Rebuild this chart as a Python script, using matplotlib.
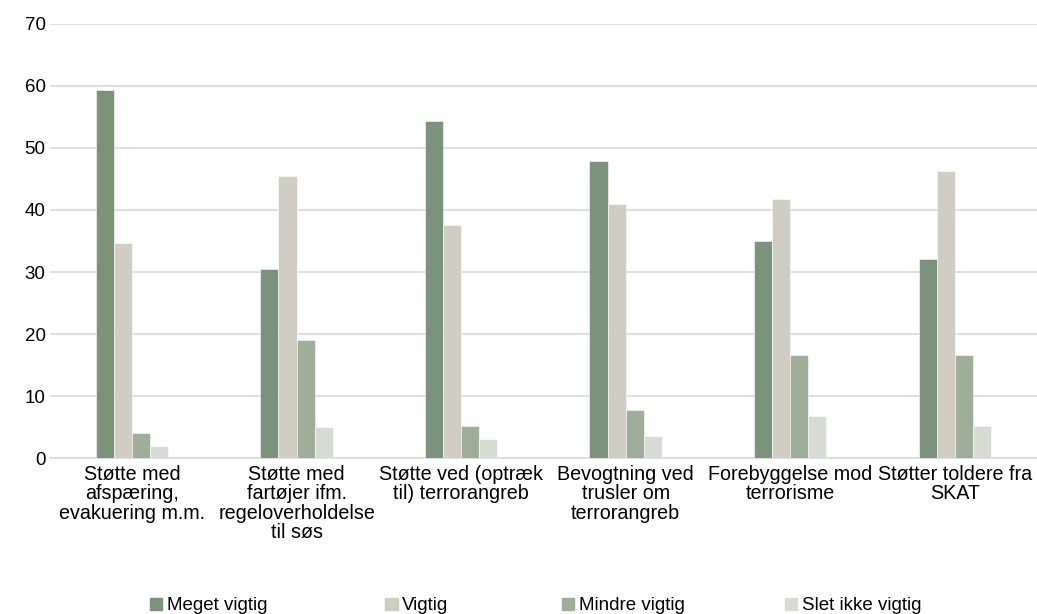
import numpy as np
import matplotlib.pyplot as plt
from matplotlib.patches import Patch

categories = [
    "Støtte med\nafspæring,\nevakuering m.m.",
    "Støtte med\nfartøjer ifm.\nregeloverholdelse\ntil søs",
    "Støtte ved (optræk\ntil) terrorangreb",
    "Bevogtning ved\ntrusler om\nterrorangreb",
    "Forebyggelse mod\nterrorisme",
    "Støtter toldere fra\nSKAT",
]
series_names = ["Meget vigtig", "Vigtig", "Mindre vigtig", "Slet ikke vigtig"]
meget = [59.3, 30.5, 54.4, 47.9, 35.0, 32.1]
vigtig = [34.7, 45.5, 37.5, 40.9, 41.8, 46.3]
mindre = [4.1, 19.0, 5.2, 7.8, 16.6, 16.6]
slet = [1.9, 5.0, 3.0, 3.5, 6.7, 5.2]
colors = ["#7a937a", "#d0cdc2", "#9eae98", "#d8dbd3"]

plt.rcParams['font.family'] = ['Liberation Sans', 'DejaVu Sans']

fig = plt.figure(figsize=(10.37, 6.14), dpi=100)
ax = fig.add_axes([0.048, 0.254, 0.952, 0.707])

x = np.arange(len(categories))
w = 0.11
handles = []
for i, vals in enumerate([meget, vigtig, mindre, slet]):
    b = ax.bar(x + (i - 1.5) * w, vals, w, color=colors[i], edgecolor="white",
               linewidth=0.4, label=series_names[i], zorder=3)
    handles.append(b)

ax.set_xlim(-0.5, len(categories) - 0.5)
ax.set_ylim(0, 70)
ax.set_yticks(range(0, 71, 10))
ax.yaxis.grid(True, color="#d9d9d9", linewidth=1.2, zorder=0)
ax.set_xticks(x)
ax.set_xticklabels(categories, fontsize=14.2, linespacing=1.02)
ax.tick_params(axis="y", length=0, labelsize=13.5, pad=3)
ax.tick_params(axis="x", length=0, pad=5)
for s in ["top", "right", "left"]:
    ax.spines[s].set_visible(False)
ax.spines["bottom"].set_color("#d9d9d9")
ax.spines["bottom"].set_linewidth(1.2)

# legend entries, spaced like the original
leg_x = [0.132, 0.359, 0.529, 0.744]
for i in range(4):
    fig.legend(handles=[Patch(color=colors[i])], labels=[series_names[i]],
               loc="lower left", bbox_to_anchor=(leg_x[i], -0.022),
               frameon=False, handlelength=0.65, handleheight=0.65,
               handletextpad=0.25, borderaxespad=0.3,
               prop={'family': ['Liberation Sans'], 'size': 13.5})

fig.savefig("out.png", dpi=100)
